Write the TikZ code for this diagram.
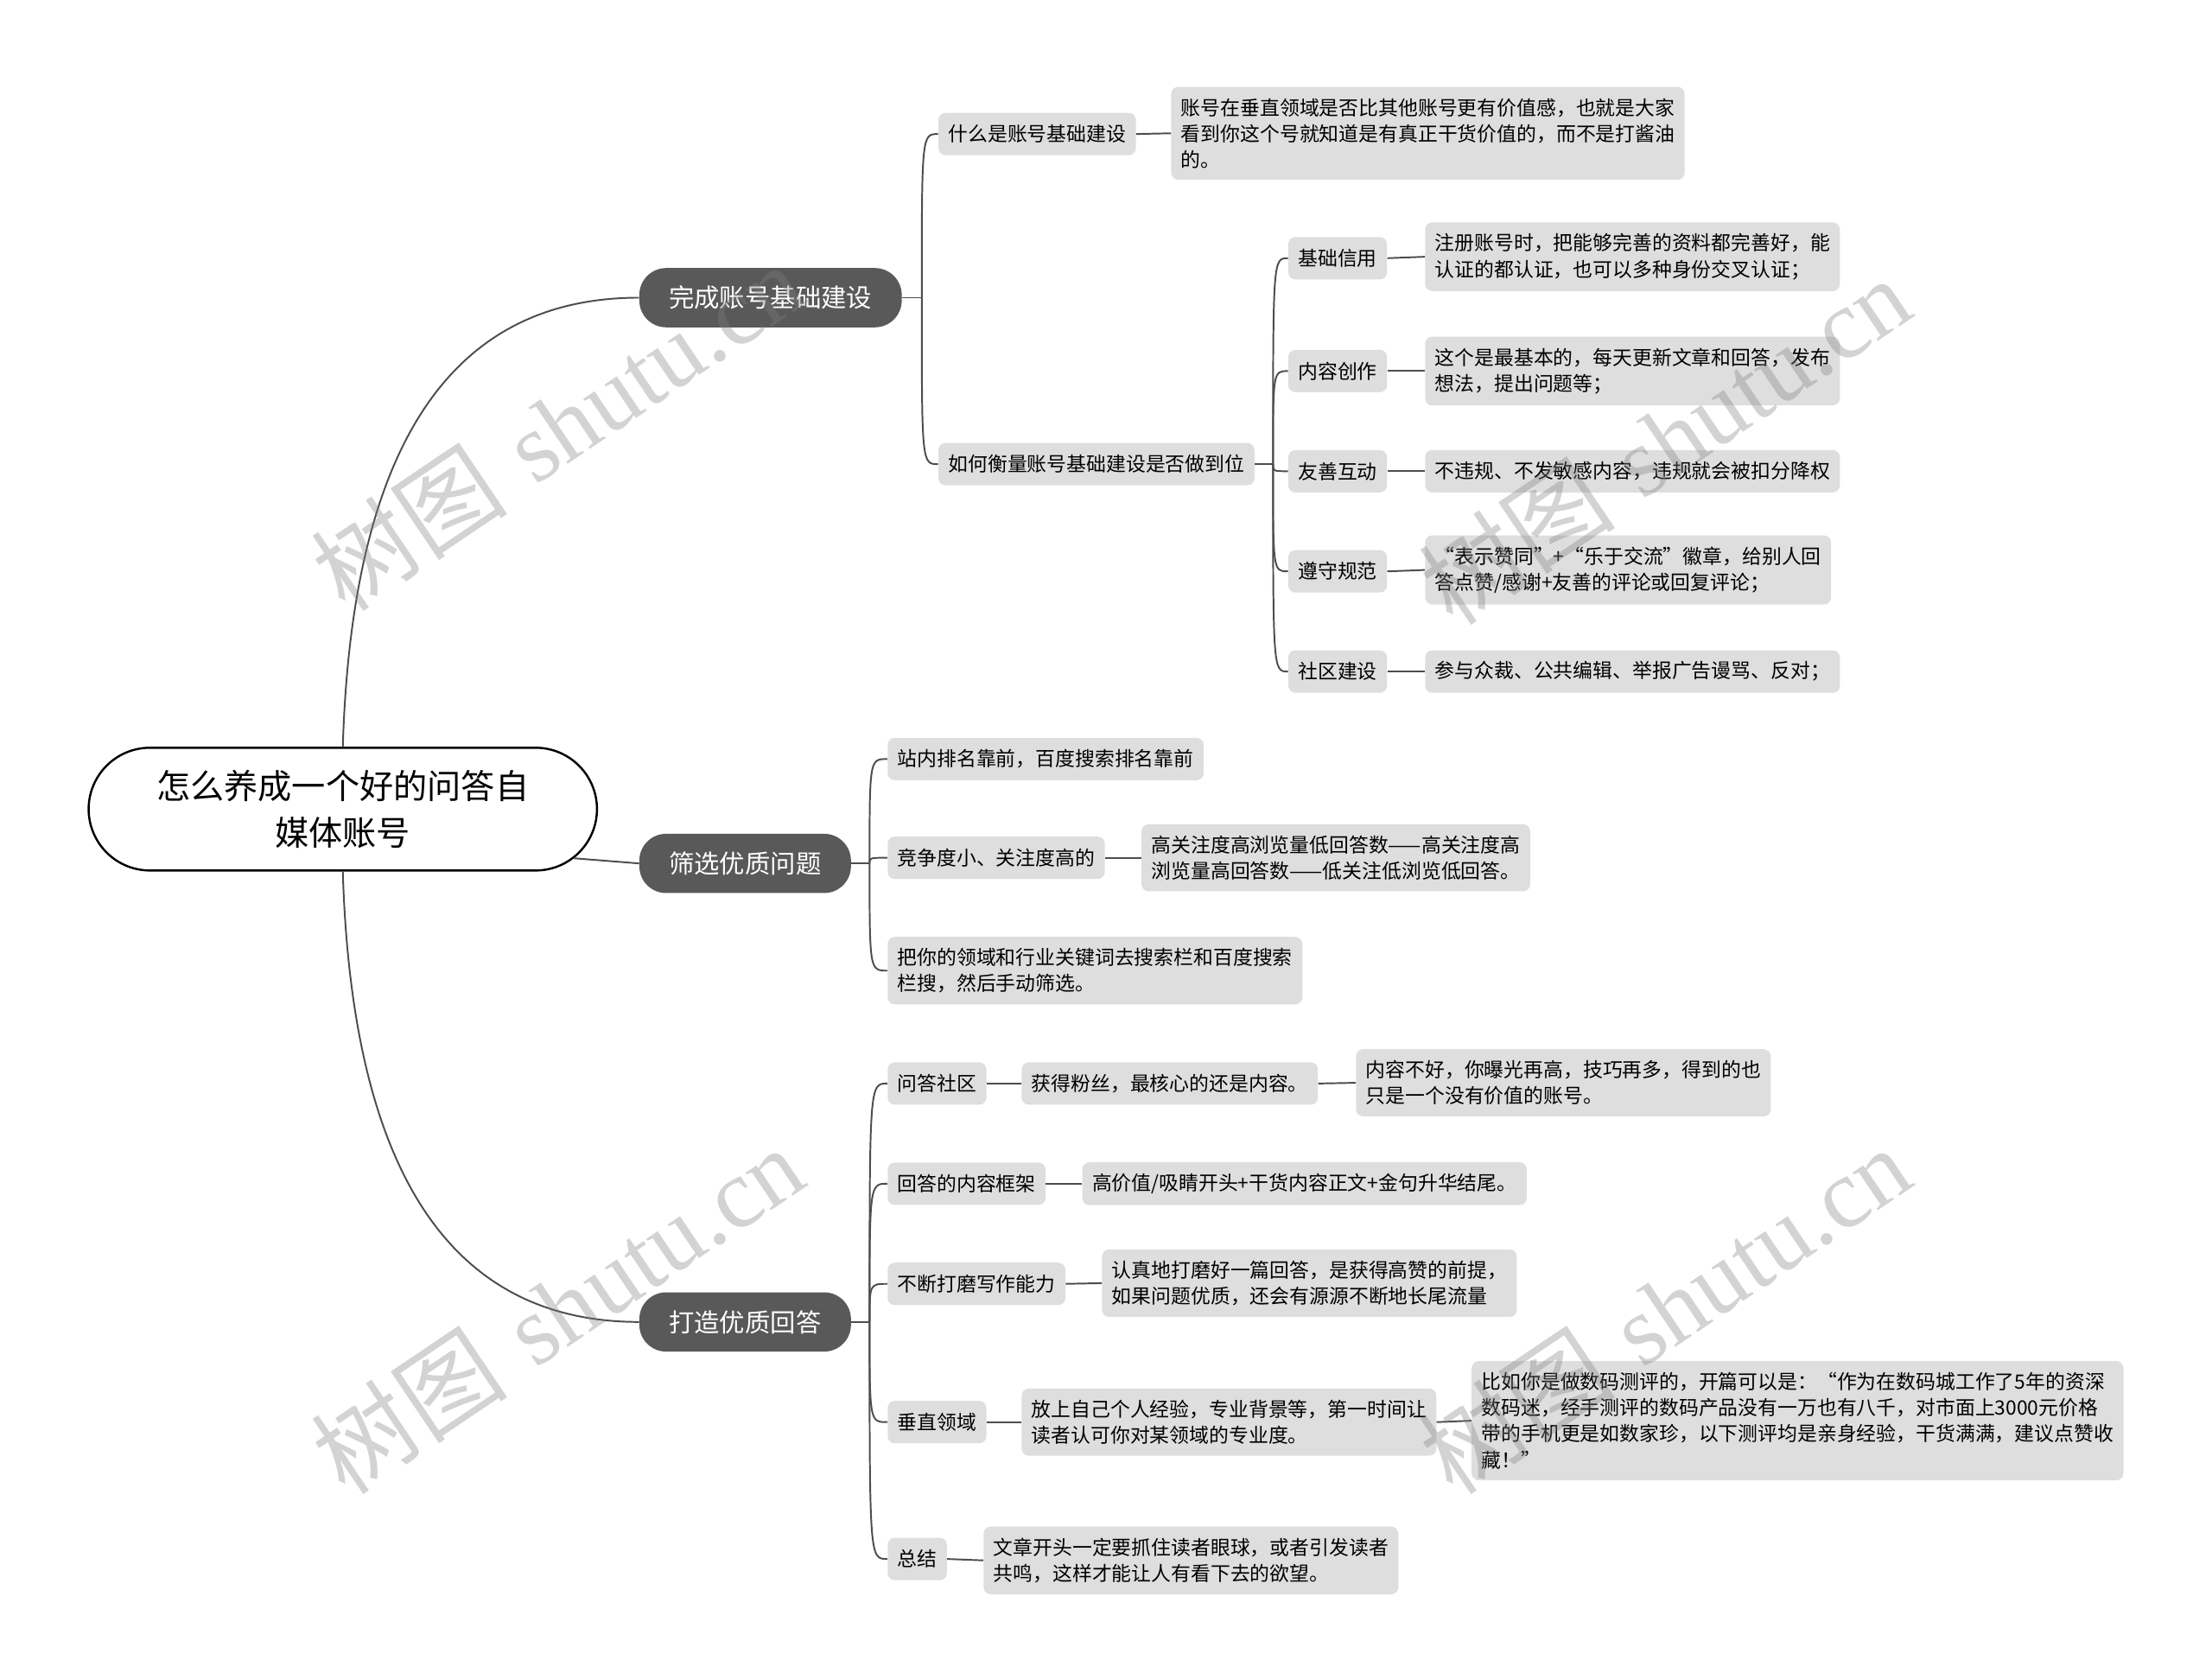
\documentclass[tikz,border=0pt]{standalone}
\usepackage{fontspec}
\newfontfamily\cjk{Noto Sans CJK SC}
\newfontfamily\wmserif{Liberation Serif}
\usetikzlibrary{shapes.misc}
\definecolor{nodegray}{HTML}{595959}
\definecolor{linegray}{HTML}{4D4D4D}
\definecolor{boxgray}{HTML}{DEDEDE}

\begin{document}
\begin{tikzpicture}[x=1pt,y=-1pt,
 topic/.style={rounded rectangle,draw=black,line width=1.5pt,fill=white,minimum width=367pt,minimum height=87pt,align=center,font=\cjk\fontsize{24}{33}\selectfont},
 main/.style={rectangle,rounded corners=19pt,fill=nodegray,text=white,minimum height=42pt,inner xsep=21pt,font=\cjk\fontsize{18}{22}\selectfont,anchor=west},
 sub/.style={rectangle,rounded corners=5pt,fill=boxgray,minimum height=30pt,inner xsep=7pt,inner ysep=8pt,align=left,font=\cjk\fontsize{14}{18.5}\selectfont,anchor=west},
 link/.style={draw=linegray,line width=1.2pt},
 wm/.style={text=gray,opacity=0.35,rotate=34,font=\fontsize{70}{70}\selectfont}]
\useasboundingbox (0,0) rectangle (1568,1190);
\node[topic] (root) at (243,573.5) {怎么养成一个好的问答自\\媒体账号};
\node[main] (m1) at (453,211) {完成账号基础建设};
\node[main] (m2) at (453,612) {筛选优质问题};
\node[main] (m3) at (453,937) {打造优质回答};
\draw[link] (root.north) .. controls (250,300) and (330,211) .. (m1.west);
\draw[link] (root.-12) -- (m2.west);
\draw[link] (root.south) .. controls (250,847) and (330,937) .. (m3.west);
% account basics
\node[sub] (a1) at (665,95) {什么是账号基础建设};
\node[sub] (a1t) at (830,94.5) {账号在垂直领域是否比其他账号更有价值感，也就是大家\\看到你这个号就知道是有真正干货价值的，而不是打酱油\\的。};
\node[sub] (a2) at (665,329) {如何衡量账号基础建设是否做到位};
\node[sub] (b1) at (913,183) {基础信用};
\node[sub] (b1t) at (1010,182) {注册账号时，把能够完善的资料都完善好，能\\认证的都认证，也可以多种身份交叉认证；};
\node[sub] (b2) at (913,263) {内容创作};
\node[sub] (b2t) at (1010,263) {这个是最基本的，每天更新文章和回答，发布\\想法，提出问题等；};
\node[sub] (b3) at (913,334) {友善互动};
\node[sub] (b3t) at (1010,334) {不违规、不发敏感内容，违规就会被扣分降权};
\node[sub] (b4) at (913,405) {遵守规范};
\node[sub] (b4t) at (1010,404) {“表示赞同”+“乐于交流”徽章，给别人回\\答点赞/感谢+友善的评论或回复评论；};
\node[sub] (b5) at (913,476) {社区建设};
\node[sub] (b5t) at (1010,476) {参与众裁、公共编辑、举报广告谩骂、反对；};
\coordinate (j1) at ([xshift=14pt]m1.east);
\draw[link] (m1.east) -- (j1);
\foreach \c in {a1,a2} \draw[link] (j1) .. controls (j1 |- \c.west) .. (\c.west);
\draw[link] (a1.east) -- (a1t.west);
\coordinate (j2) at ([xshift=13pt]a2.east);
\draw[link] (a2.east) -- (j2);
\foreach \c in {b1,b2,b3,b4,b5} {
 \draw[link] (j2) .. controls (j2 |- \c.west) .. (\c.west);
 \draw[link] (\c.east) -- (\c t.west);
}
% questions
\node[sub] (c1) at (629,538) {站内排名靠前，百度搜索排名靠前};
\node[sub] (c2) at (629,608) {竞争度小、关注度高的};
\node[sub] (c2t) at (809,608) {高关注度高浏览量低回答数——高关注度高\\浏览量高回答数——低关注低浏览低回答。};
\node[sub] (c3) at (629,688) {把你的领域和行业关键词去搜索栏和百度搜索\\栏搜，然后手动筛选。};
\coordinate (j3) at ([xshift=13pt]m2.east);
\draw[link] (m2.east) -- (j3);
\foreach \c in {c1,c2,c3} \draw[link] (j3) .. controls (j3 |- \c.west) .. (\c.west);
\draw[link] (c2.east) -- (c2t.west);
% answers
\node[sub] (d1) at (629,768) {问答社区};
\node[sub] (d1t) at (724,768) {获得粉丝，最核心的还是内容。};
\node[sub] (d1u) at (961,767.5) {内容不好，你曝光再高，技巧再多，得到的也\\只是一个没有价值的账号。};
\node[sub] (d2) at (629,839) {回答的内容框架};
\node[sub] (d2t) at (767,839) {高价值/吸睛开头+干货内容正文+金句升华结尾。};
\node[sub] (d3) at (629,910) {不断打磨写作能力};
\node[sub] (d3t) at (781,909.5) {认真地打磨好一篇回答，是获得高赞的前提，\\如果问题优质，还会有源源不断地长尾流量};
\node[sub] (d4) at (629,1008) {垂直领域};
\node[sub] (d4t) at (724,1008) {放上自己个人经验，专业背景等，第一时间让\\读者认可你对某领域的专业度。};
\node[sub] (d4u) at (1043,1007) {比如你是做数码测评的，开篇可以是：“作为在数码城工作了5年的资深\\数码迷，经手测评的数码产品没有一万也有八千，对市面上3000元价格\\带的手机更是如数家珍，以下测评均是亲身经验，干货满满，建议点赞收\\藏！”};
\node[sub] (d5) at (629,1105) {总结};
\node[sub] (d5t) at (697,1106) {文章开头一定要抓住读者眼球，或者引发读者\\共鸣，这样才能让人有看下去的欲望。};
\coordinate (j4) at ([xshift=13pt]m3.east);
\draw[link] (m3.east) -- (j4);
\foreach \c in {d1,d2,d3,d4,d5} {
 \draw[link] (j4) .. controls (j4 |- \c.west) .. (\c.west);
 \draw[link] (\c.east) -- (\c t.west);
}
\draw[link] (d1t.east) -- (d1u.west);
\draw[link] (d4t.east) -- (d4u.west);
% watermarks
\node[wm] (wm1) at (395,302) {{\cjk 树图} {\wmserif shutu.cn}};
\node[wm] (wm2) at (1180,312) {{\cjk 树图} {\wmserif shutu.cn}};
\node[wm] (wm3) at (395,928) {{\cjk 树图} {\wmserif shutu.cn}};
\node[wm] (wm4) at (1180,928) {{\cjk 树图} {\wmserif shutu.cn}};
\end{tikzpicture}
\end{document}
